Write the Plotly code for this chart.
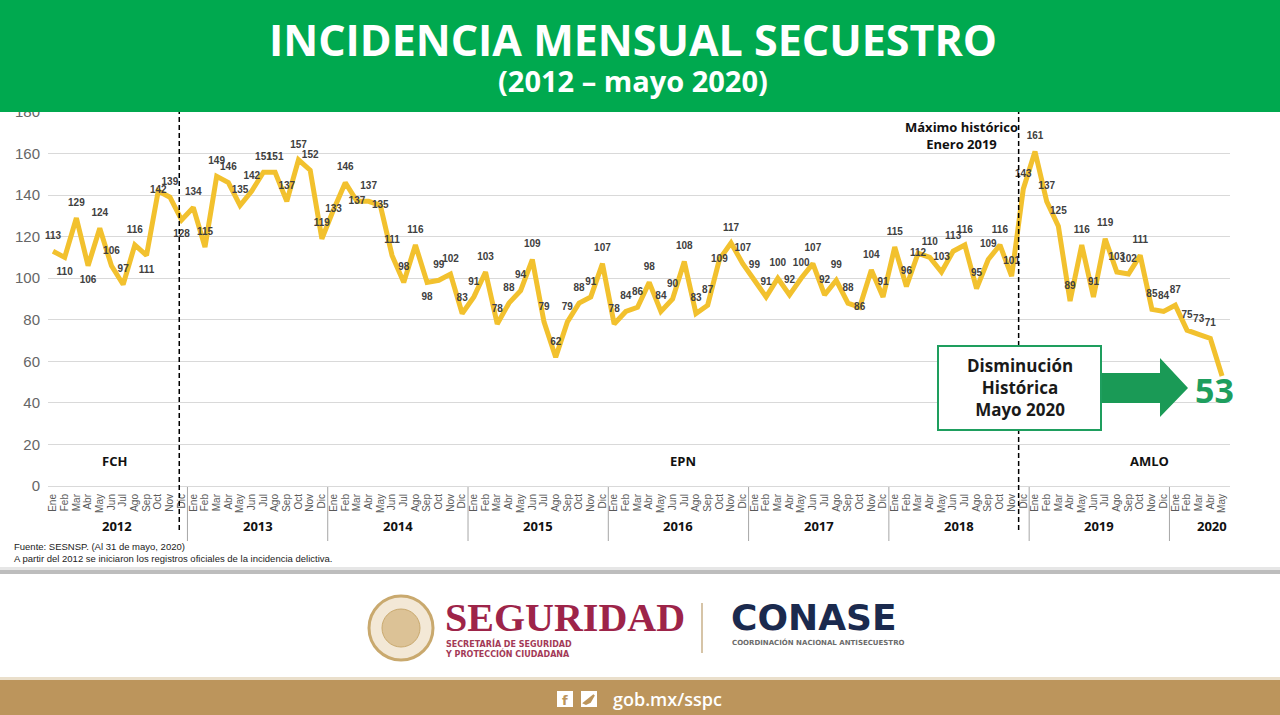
import plotly.graph_objects as go

# --- data: secuestros por mes (SESNSP) ---
meses = ["Ene", "Feb", "Mar", "Abr", "May", "Jun", "Jul", "Ago", "Sep", "Oct", "Nov", "Dic"]
anios = [2012, 2013, 2014, 2015, 2016, 2017, 2018, 2019, 2020]

sec_2012 = [113, 110, 129, 106, 124, 106, 97, 116, 111, 142, 139, 128]
sec_2013 = [134, 115, 149, 146, 135, 142, 151, 151, 137, 157, 152, 119]
sec_2014 = [133, 146, 137, 137, 135, 111, 98, 116, 98, 99, 102, 83]
sec_2015 = [91, 103, 78, 88, 94, 109, 79, 62, 79, 88, 91, 107]
sec_2016 = [78, 84, 86, 98, 84, 90, 108, 83, 87, 109, 117, 107]
sec_2017 = [99, 91, 100, 92, 100, 107, 92, 99, 88, 86, 104, 91]
sec_2018 = [115, 96, 112, 110, 103, 113, 116, 95, 109, 116, 101, 143]
sec_2019 = [161, 137, 125, 89, 116, 91, 119, 103, 102, 111, 85, 84]
sec_2020 = [87, 75, 73, 71, 53]

por_anio = [sec_2012, sec_2013, sec_2014, sec_2015, sec_2016, sec_2017, sec_2018, sec_2019, sec_2020]
y_ticks = [0, 20, 40, 60, 80, 100, 120, 140, 160, 180]

valores = [v for serie in por_anio for v in serie]
etiquetas_mes = [meses[i] for serie in por_anio for i in range(len(serie))]
idx = list(range(len(valores)))

# label placement tweaks (style only)
pos_etiqueta = {1: "bottom center", 3: "bottom center", 8: "bottom center", 11: "bottom center",
                9: "middle center", 24: "middle center", 26: "middle center", 28: "middle center",
                32: "bottom center", 57: "middle center", 69: "middle center", 74: "middle center"}
textpos = [pos_etiqueta.get(i, "top center") for i in idx]
textos = [str(v) for v in valores]
textos[-1] = ""  # last value shown big in green

W, H = 1280, 715
L, R, T, B = 48, 50, 112, 229
PW, PH = W - L - R, H - T - B


def px(x):
    return (x - L) / PW


def py(y):
    return (H - B - y) / PH


GREEN = "#00A94F"
BOXGREEN = "#1E9E5E"
YELLOW = "#F2C12E"
TAN = "#BC955C"
OPEN = "Open Sans"
ARIAL = "Liberation Sans, Arial"

fig = go.Figure()
fig.add_trace(go.Scatter(
    x=idx, y=valores, mode="lines+markers+text",
    line=dict(color=YELLOW, width=5),
    marker=dict(size=14, opacity=0),
    text=textos, textposition=textpos,
    textfont=dict(family=ARIAL, size=10, color="#404040", weight="bold"),
    cliponaxis=False, hoverinfo="x+y", showlegend=False,
))

shapes = []
annotations = []


def nota(text, x, y, size, color="#111", family=OPEN, weight="bold", xref="paper", yref="paper", **kw):
    d = dict(text=text, x=x, y=y, xref=xref, yref=yref, showarrow=False,
             xanchor="center", yanchor="middle",
             font=dict(family=family, size=size, color=color, weight=weight))
    d.update(kw)
    annotations.append(d)


def caja(x0, y0, x1, y1, color, layer="below"):
    shapes.append(dict(type="rect", xref="paper", yref="paper", x0=px(x0), x1=px(x1), y0=py(y1), y1=py(y0),
                       fillcolor=color, line=dict(width=0), layer=layer))


# year separators under the axis
cuenta = 0
centros = []
for serie in por_anio:
    centros.append(cuenta + (len(serie) - 1) / 2)
    cuenta += len(serie)
    if cuenta < len(valores):
        shapes.append(dict(type="line", xref="x", yref="paper", x0=cuenta - 0.5, x1=cuenta - 0.5,
                           y0=py(487), y1=py(541), line=dict(color="#a6a6a6", width=1)))

# sexenio changes (dashed)
for xc in [10.8, 82.6]:
    shapes.append(dict(type="line", xref="x", yref="paper", x0=xc, x1=xc, y0=py(530), y1=py(112),
                       line=dict(color="black", width=1.5, dash="5px,3px")))

# header band
caja(0, 0, W, 112, GREEN, layer="above")
# separator above footer logos
caja(0, 567, W, 570, "#e6e6e6")
caja(0, 570, W, 574, "#bdbdbd")
# bottom tan band
caja(0, 677, W, 680, "#EADFCB")
caja(0, 680, W, H, TAN)
# social icons
caja(557, 691, 573, 707, "white")
caja(581, 691, 597, 707, "white")
shapes.append(dict(type="path", xref="paper", yref="paper",
                   path="M %f %f L %f %f L %f %f L %f %f Z" % (px(584), py(703), px(594), py(695),
                                                              px(590), py(702), px(586), py(704)),
                   fillcolor=TAN, line=dict(color=TAN, width=2)))
# seal
shapes.append(dict(type="circle", xref="paper", yref="paper", x0=px(369), x1=px(433), y0=py(660), y1=py(596),
                   fillcolor="#F3E8D6", line=dict(color="#C9A96E", width=3)))
shapes.append(dict(type="circle", xref="paper", yref="paper", x0=px(382), x1=px(420), y0=py(647), y1=py(609),
                   fillcolor="#DCC296", line=dict(color="#C9A96E", width=1)))
# logo divider
shapes.append(dict(type="line", xref="paper", yref="paper", x0=px(702), x1=px(702), y0=py(653), y1=py(603),
                   line=dict(color="#C8B08A", width=1.5)))
# "Disminución histórica" box and arrow
shapes.append(dict(type="rect", xref="paper", yref="paper", x0=px(938), x1=px(1101), y0=py(430), y1=py(346),
                   fillcolor="white", line=dict(color=BOXGREEN, width=2), layer="above"))
flecha = [(1102, 373), (1160, 373), (1160, 358), (1188, 388), (1160, 417), (1160, 403), (1102, 403)]
shapes.append(dict(type="path", xref="paper", yref="paper",
                   path="M " + " L ".join("%f %f" % (px(a), py(b)) for a, b in flecha) + " Z",
                   fillcolor="#1A9A56", line=dict(width=0), layer="above"))

nota("INCIDENCIA MENSUAL SECUESTRO", px(633), py(40), 43, color="white")
nota("(2012 – mayo 2020)", px(633), py(80), 29, color="white")

for anio, c in zip(anios, centros):
    if anio == anios[-1]:
        nota(str(anio), len(valores) - 0.4, py(526), 13, xref="x", xanchor="right")
    else:
        nota(str(anio), c, py(526), 13, xref="x")

for nombre, xc in [("FCH", 5.3), ("EPN", 53.9), ("AMLO", 93.8)]:
    nota(nombre, xc, py(461), 13, xref="x")

nota("Máximo histórico<br>Enero 2019", px(962), py(135), 13, align="center")
nota("Disminución<br>Histórica<br>Mayo 2020", px(1020), py(387), 17, color="#1a1a1a", align="center")
nota(str(valores[-1]), px(1214), py(390), 34, color=BOXGREEN)

nota("Fuente: SESNSP. (Al 31 de mayo, 2020)<br>"
     "A partir del 2012 se iniciaron los registros oficiales de la incidencia delictiva.",
     px(12), py(552), 9.5, color="#222", family=ARIAL, weight="normal", xanchor="left", align="left")

# footer logos
nota("SEGURIDAD", px(443), py(617), 40, color="#9D2449", family="Liberation Serif", xanchor="left")
nota("SECRETARÍA DE SEGURIDAD<br>Y PROTECCIÓN CIUDADANA", px(443), py(648), 8, color="#A33A57",
     family="DejaVu Sans", xanchor="left", align="left")
nota("CONASE", px(729), py(617), 36, color="#1B2A4E", family="DejaVu Sans", xanchor="left")
nota("COORDINACIÓN NACIONAL ANTISECUESTRO", px(730), py(642), 7, color="#6b6b6b", family="DejaVu Sans",
     xanchor="left")
nota("f", px(565), py(700), 13, color=TAN, family="DejaVu Sans")
nota("gob.mx/sspc", px(667), py(699), 18, color="white", weight=600)

fig.update_layout(
    width=W, height=H,
    margin=dict(l=L, r=R, t=T, b=B),
    paper_bgcolor="white", plot_bgcolor="white",
    shapes=shapes, annotations=annotations,
    xaxis=dict(range=[-0.428, 100.68], tickmode="array", tickvals=idx, ticktext=etiquetas_mes,
               tickangle=-90, showgrid=False, zeroline=False, showline=False, ticks="",
               ticklabelstandoff=5,
               tickfont=dict(family=ARIAL, size=10, color="#595959")),
    yaxis=dict(range=[0, 180], tickmode="array", tickvals=y_ticks, showgrid=True, gridcolor="#d9d9d9",
               gridwidth=1, zeroline=True, zerolinecolor="#d9d9d9", zerolinewidth=1, ticks="",
               ticklabelstandoff=7,
               tickfont=dict(family=ARIAL, size=15, color="#666")),
)

fig.write_html("out.html", config={"displayModeBar": False},
               post_script="document.body.style.margin='0';")
